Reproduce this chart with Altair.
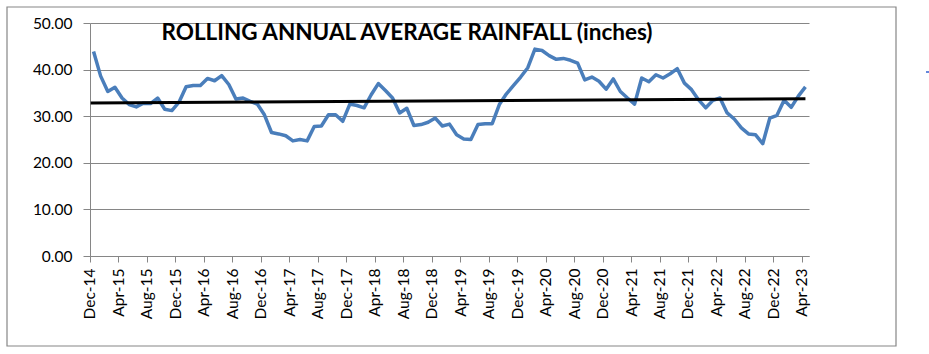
import altair as alt
import pandas as pd

months = ["Dec", "Jan", "Feb", "Mar", "Apr", "May", "Jun", "Jul", "Aug", "Sep", "Oct", "Nov"]

# Month labels Dec-14 .. Apr-23 (101 months)
labels = []
for k in range(101):
    m = k % 12
    y = 14 + (k + 11) // 12
    labels.append(f"{months[m]}-{y:02d}")

rainfall = [
    43.9, 38.6, 35.3, 36.2, 33.9, 32.5, 32.0, 32.8, 32.7, 33.9,
    31.5, 31.2, 33.0, 36.3, 36.6, 36.6, 38.1, 37.6, 38.7, 36.8,
    33.7, 33.9, 33.2, 32.6, 30.3, 26.5, 26.2, 25.8, 24.7, 25.0,
    24.7, 27.8, 27.9, 30.3, 30.3, 28.9, 32.6, 32.3, 31.8, 34.6,
    37.0, 35.5, 33.9, 30.7, 31.7, 28.0, 28.2, 28.7, 29.6, 27.9,
    28.3, 26.0, 25.1, 25.0, 28.2, 28.4, 28.4, 32.5, 34.8, 36.6,
    38.4, 40.4, 44.4, 44.1, 43.0, 42.2, 42.4, 42.0, 41.4, 37.8,
    38.4, 37.5, 35.8, 38.0, 35.3, 33.9, 32.6, 38.2, 37.4, 38.9,
    38.2, 39.1, 40.2, 37.1, 35.7, 33.5, 31.8, 33.4, 33.9, 30.7,
    29.4, 27.5, 26.2, 26.0, 24.1, 29.6, 30.2, 33.4, 31.9, 34.3,
    36.3,
]

# Linear trend line end points
trend_idx = [-0.4, 100]
trend_val = [32.84, 33.76]

title_text = "ROLLING ANNUAL AVERAGE RAINFALL (inches)"
y_ticks = [0, 10, 20, 30, 40, 50]
x_tick_idx = list(range(0, 101, 4))

df = pd.DataFrame({"idx": list(range(len(rainfall))), "label": labels, "value": rainfall})
df_trend = pd.DataFrame({"idx": trend_idx, "value": trend_val})

label_map = "{" + ",".join(f'"{i}":"{labels[i]}"' for i in x_tick_idx) + "}"

FONT = "Lato"
GRAY = "#868686"

x_enc = alt.X(
    "idx:Q",
    scale=alt.Scale(domain=[-0.5, 100.5], nice=False, zero=False),
    axis=alt.Axis(
        values=x_tick_idx,
        labelExpr=f"{label_map}[datum.value]",
        labelAngle=-90,
        labelAlign="right",
        labelBaseline="middle",
        labelFont=FONT,
        labelFontSize=15.5,
        labelColor="#000000",
        labelPadding=6,
        tickSize=6,
        tickOffset=-3.56,
        tickColor=GRAY,
        domainColor=GRAY,
        grid=False,
        title=None,
        labelOverlap=False,
        labelBound=False,
        labelFlush=False,
    ),
)

y_enc = alt.Y(
    "value:Q",
    scale=alt.Scale(domain=[0, 50], nice=False),
    axis=alt.Axis(
        values=y_ticks,
        format=".2f",
        labelFont=FONT,
        labelFontSize=15.5,
        labelColor="#000000",
        labelPadding=11,
        tickSize=7,
        tickColor=GRAY,
        domainColor=GRAY,
        gridColor=GRAY,
        gridWidth=1,
        title=None,
    ),
)

line = alt.Chart(df).mark_line(color="#4a7ebb", strokeWidth=3.5, strokeJoin="round").encode(x=x_enc, y=y_enc)

trend = alt.Chart(df_trend).mark_line(color="#000000", strokeWidth=3).encode(x=x_enc, y=y_enc)

title = alt.Chart(pd.DataFrame({"t": [title_text]})).mark_text(
    font=FONT, fontSize=22.5, fontWeight="bold", color="#000000", align="center", baseline="middle"
).encode(text="t:N", x=alt.value(317), y=alt.value(10))

frame = alt.Chart(pd.DataFrame({"a": [0]})).mark_rect(
    fill=None, stroke=GRAY, strokeWidth=1.2
).encode(x=alt.value(-83), x2=alt.value(806), y=alt.value(-16), y2=alt.value(323))

dot = alt.Chart(pd.DataFrame({"a": [0]})).mark_rule(color="#3060d0", strokeWidth=1.5).encode(
    x=alt.value(836), x2=alt.value(839), y=alt.value(49)
)

chart = (
    alt.layer(frame, line, trend, title, dot)
    .properties(
        width=719,
        height=233,
        padding={"left": 90, "top": 23, "right": 120, "bottom": 98},
        autosize=alt.AutoSizeParams(type="none"),
        background="#ffffff",
    )
    .configure_view(stroke=None)
    .configure_axis(labelOverlap=False)
)

chart.save("out.html", embed_options={"renderer": "svg", "actions": False})
